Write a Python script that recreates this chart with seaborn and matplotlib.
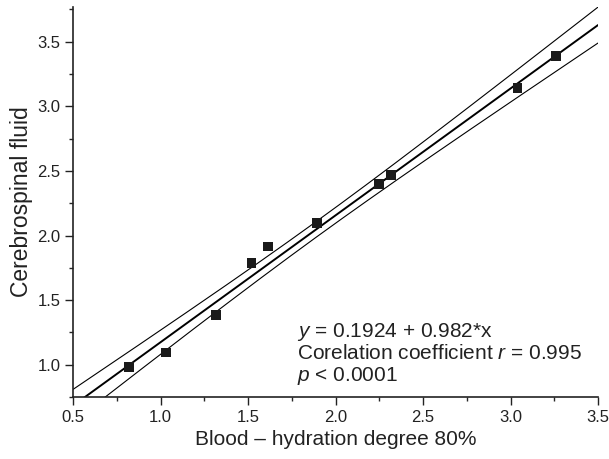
import numpy as np
import pandas as pd
import seaborn as sns
import matplotlib.pyplot as plt
from matplotlib.ticker import MultipleLocator

# --- Data ---
blood = [0.82, 1.03, 1.315, 1.52, 1.615, 1.895, 2.25, 2.315, 3.04, 3.26]
csf = [0.985, 1.095, 1.385, 1.79, 1.915, 2.10, 2.40, 2.47, 3.14, 3.39]
fit_intercept = 0.1924
fit_slope = 0.982
x_range = [0.5, 3.5]

annot_lines = [
    r"$y$ = 0.1924 + 0.982*x",
    r"Corelation coefficient $r$ = 0.995",
    r"$p$ < 0.0001",
]

sns.set_style("ticks")
plt.rcParams["font.family"] = ["Liberation Sans", "DejaVu Sans"]
plt.rcParams["mathtext.fontset"] = "custom"
plt.rcParams["mathtext.it"] = "Liberation Sans:italic"
plt.rcParams["mathtext.rm"] = "Liberation Sans"

df = pd.DataFrame({"blood": blood, "csf": csf})

# fitted line and 95% confidence band of the mean
x = np.asarray(blood)
y = np.asarray(csf)
n = len(x)
grid = np.linspace(x_range[0], x_range[1], 200)
y_fit = fit_intercept + fit_slope * grid
resid = y - (fit_intercept + fit_slope * x)
s = np.sqrt(np.sum(resid ** 2) / (n - 2))
sxx = np.sum((x - x.mean()) ** 2)
t95 = 2.306
half = t95 * s * np.sqrt(1 / n + (grid - x.mean()) ** 2 / sxx)
bands = pd.DataFrame({"x": grid, "fit": y_fit, "upper": y_fit + half, "lower": y_fit - half})

fig = plt.figure(figsize=(6.09, 4.59), dpi=100)
ax = fig.add_axes([0.12, 0.135, 0.862, 0.85])

sns.lineplot(data=bands, x="x", y="upper", color="black", linewidth=0.8, ax=ax)
sns.lineplot(data=bands, x="x", y="lower", color="black", linewidth=0.8, ax=ax)
sns.lineplot(data=bands, x="x", y="fit", color="black", linewidth=1.4, ax=ax)
sns.scatterplot(data=df, x="blood", y="csf", marker="s", s=50, color="#1a1a1a",
                edgecolor="none", ax=ax, zorder=5)

ax.set_xlim(0.5, 3.5)
ax.set_ylim(0.75, 3.77)
ax.xaxis.set_major_locator(MultipleLocator(0.5))
ax.xaxis.set_minor_locator(MultipleLocator(0.25))
ax.yaxis.set_major_locator(MultipleLocator(0.5))
ax.yaxis.set_minor_locator(MultipleLocator(0.25))
ax.tick_params(which="major", length=5.5, width=1, labelsize=12, colors="#222222")
ax.tick_params(which="minor", length=3, width=1)
ax.xaxis.set_major_formatter(plt.FormatStrFormatter("%.1f"))
ax.yaxis.set_major_formatter(plt.FormatStrFormatter("%.1f"))
sns.despine(ax=ax)
for sp in ["left", "bottom"]:
    ax.spines[sp].set_linewidth(1.2)
    ax.spines[sp].set_color("#222222")

ax.set_xlabel("Blood \u2013 hydration degree 80%", fontsize=15, color="#222222", labelpad=4)
ax.set_ylabel("Cerebrospinal fluid", fontsize=16.5, color="#222222", labelpad=3)

for i, line in enumerate(annot_lines):
    ax.text(1.78, 1.255 - i * 0.17, line, fontsize=15, color="#222222", va="center", ha="left")

fig.savefig("out.png", dpi=100)
